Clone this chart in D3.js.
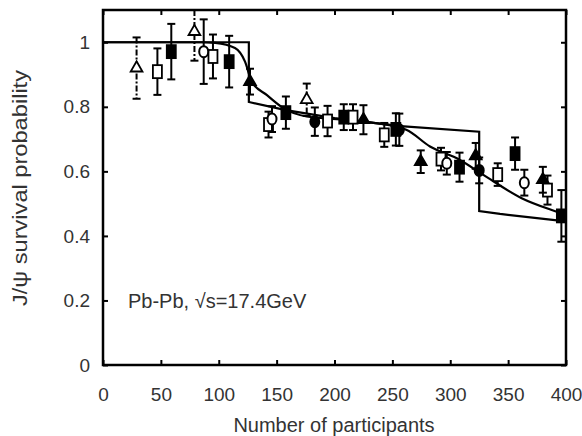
<!DOCTYPE html>
<html>
<head>
<meta charset="utf-8">
<script src="https://cdn.jsdelivr.net/npm/d3@7"></script>
<style>
  body { margin: 0; background: #fff; }
  text { font-family: "Liberation Sans", Arial, sans-serif; fill: #333; }
</style>
</head>
<body>
<div id="chart"></div>
<script>
// data: [participants, survival, error]
const openTriangles = [[29, 0.92, 0.095], [79, 1.033, 0.09], [176, 0.822, 0.05]];
const openSquares = [[47, 0.909, 0.072], [95, 0.956, 0.068], [143, 0.745, 0.04], [194, 0.756, 0.047],
    [216, 0.768, 0.04], [243, 0.713, 0.037], [292, 0.638, 0.035], [341, 0.59, 0.035], [384, 0.542, 0.045]];
const filledSquares = [[59, 0.971, 0.086], [109, 0.94, 0.08], [158, 0.782, 0.05], [208, 0.768, 0.04],
    [253, 0.73, 0.05], [308, 0.613, 0.045], [356, 0.655, 0.05], [396, 0.462, 0.08]];
const openCircles = [[87, 0.971, 0.1], [146, 0.762, 0.04], [297, 0.625, 0.035], [364, 0.565, 0.04]];
const filledCircles = [[183, 0.754, 0.044], [256, 0.729, 0.05], [325, 0.603, 0.04]];
const filledTriangles = [[127, 0.878, 0.04], [225, 0.76, 0.045], [274.5, 0.63, 0.035], [322, 0.648, 0.04], [380, 0.574, 0.04]];

// smooth model curve
const curvePts = [[0, 1], [85, 1], [97, 0.998], [114, 0.982], [122.7, 0.94], [128.5, 0.878], [141.4, 0.837],
    [155.8, 0.796], [176, 0.77], [202, 0.762], [231, 0.752], [262, 0.729], [282.5, 0.677], [308, 0.636],
    [328.6, 0.589], [361.7, 0.517], [392, 0.475], [400, 0.465]];
// step model
const stepPts = [[0, 1], [126, 1], [126, 0.815], [158, 0.79], [200, 0.765], [257, 0.74], [325, 0.723],
    [325, 0.477], [343, 0.468], [400, 0.445]];

const xTicks = [0, 50, 100, 150, 200, 250, 300, 350, 400];
const yTicks = [0, 0.2, 0.4, 0.6, 0.8, 1];

const width = 582, height = 436;
const margin = {left: 103, right: 16, top: 10, bottom: 71};

const svg = d3.select("#chart").append("svg")
    .attr("width", width)
    .attr("height", height);

const x = d3.scaleLinear().domain([0, 400]).range([margin.left, width - margin.right]);
const y = d3.scaleLinear().domain([0, 1.1]).range([height - margin.bottom, margin.top]);

// ticks on all four sides, pointing in
svg.append("g")
    .attr("transform", `translate(0,${y(0)})`)
    .call(d3.axisBottom(x).tickValues(xTicks).tickSizeInner(-5).tickSizeOuter(0).tickPadding(23))
    .call(g => g.select(".domain").remove())
    .call(g => g.selectAll("text").attr("font-size", 19));
svg.append("g")
    .attr("transform", `translate(0,${y(1.1)})`)
    .call(d3.axisTop(x).tickValues(xTicks).tickSizeInner(-5).tickSizeOuter(0).tickFormat(""))
    .call(g => g.select(".domain").remove());
svg.append("g")
    .attr("transform", `translate(${x(0)},0)`)
    .call(d3.axisLeft(y).tickValues(yTicks).tickSizeInner(-5).tickSizeOuter(0).tickPadding(13).tickFormat(d3.format("~g")))
    .call(g => g.select(".domain").remove())
    .call(g => g.selectAll("text").attr("font-size", 19));
svg.append("g")
    .attr("transform", `translate(${x(400)},0)`)
    .call(d3.axisRight(y).tickValues(yTicks).tickSizeInner(-5).tickSizeOuter(0).tickFormat(""))
    .call(g => g.select(".domain").remove());
svg.selectAll(".tick line").attr("stroke", "#000").attr("stroke-width", 2);

svg.append("rect")
    .attr("x", x(0)).attr("y", y(1.1))
    .attr("width", x(400) - x(0)).attr("height", y(0) - y(1.1))
    .attr("fill", "none").attr("stroke", "#000").attr("stroke-width", 2.5);

// model lines
const line = d3.line().x(d => x(d[0])).y(d => y(d[1]));
svg.append("path").datum(stepPts)
    .attr("d", line)
    .attr("fill", "none").attr("stroke", "#000").attr("stroke-width", 2.2);
svg.append("path").datum(curvePts)
    .attr("d", line.curve(d3.curveMonotoneX))
    .attr("fill", "none").attr("stroke", "#000").attr("stroke-width", 2.2);

// error bars + markers
function drawSeries(data, shape, filled, dashed) {
    const g = svg.append("g");
    const bars = g.selectAll(".eb").data(data).enter().append("g");
    bars.append("line")
        .attr("x1", d => x(d[0])).attr("x2", d => x(d[0]))
        .attr("y1", d => y(Math.min(d[1] + d[2], 1.1))).attr("y2", d => y(d[1] - d[2]))
        .attr("stroke", "#000").attr("stroke-width", 2)
        .attr("stroke-dasharray", dashed ? "6,2,2,2" : null);
    bars.append("line")
        .attr("x1", d => x(d[0]) - 4).attr("x2", d => x(d[0]) + 4)
        .attr("y1", d => y(d[1] + d[2])).attr("y2", d => y(d[1] + d[2]))
        .attr("stroke", "#000").attr("stroke-width", 2)
        .style("display", d => d[1] + d[2] > 1.1 ? "none" : null);
    bars.append("line")
        .attr("x1", d => x(d[0]) - 4).attr("x2", d => x(d[0]) + 4)
        .attr("y1", d => y(d[1] - d[2])).attr("y2", d => y(d[1] - d[2]))
        .attr("stroke", "#000").attr("stroke-width", 2);

    const fill = filled ? "#000" : "#fff";
    if (shape === "square") {
        g.selectAll(".m").data(data).enter().append("rect")
            .attr("x", d => x(d[0]) - 4.5).attr("y", d => y(d[1]) - 6.5)
            .attr("width", 9).attr("height", 13)
            .attr("fill", fill).attr("stroke", "#000").attr("stroke-width", 1.8);
    } else if (shape === "circle") {
        g.selectAll(".m").data(data).enter().append("ellipse")
            .attr("cx", d => x(d[0])).attr("cy", d => y(d[1]))
            .attr("rx", 4.5).attr("ry", 5.5)
            .attr("fill", fill).attr("stroke", "#000").attr("stroke-width", 2);
    } else {
        g.selectAll(".m").data(data).enter().append("path")
            .attr("transform", d => `translate(${x(d[0])},${y(d[1])})`)
            .attr("d", d3.symbol(d3.symbolTriangle, 60))
            .attr("fill", fill).attr("stroke", "#000").attr("stroke-width", 1.8);
    }
}

drawSeries(openTriangles, "triangle", false, true);
drawSeries(openSquares, "square", false, false);
drawSeries(filledSquares, "square", true, false);
drawSeries(openCircles, "circle", false, false);
drawSeries(filledCircles, "circle", true, false);
drawSeries(filledTriangles, "triangle", true, false);

// labels
svg.append("text")
    .attr("x", 128).attr("y", 308)
    .attr("font-size", 20)
    .text("Pb-Pb, \u221As=17.4GeV");

svg.append("text")
    .attr("x", 334).attr("y", 432)
    .attr("text-anchor", "middle")
    .attr("font-size", 20)
    .text("Number of participants");

svg.append("text")
    .attr("transform", "translate(27,188) rotate(-90)")
    .attr("text-anchor", "middle")
    .attr("font-size", 20)
    .attr("textLength", 236)
    .attr("lengthAdjust", "spacingAndGlyphs")
    .text("J/\u03C8 survival probability");
</script>
</body>
</html>
